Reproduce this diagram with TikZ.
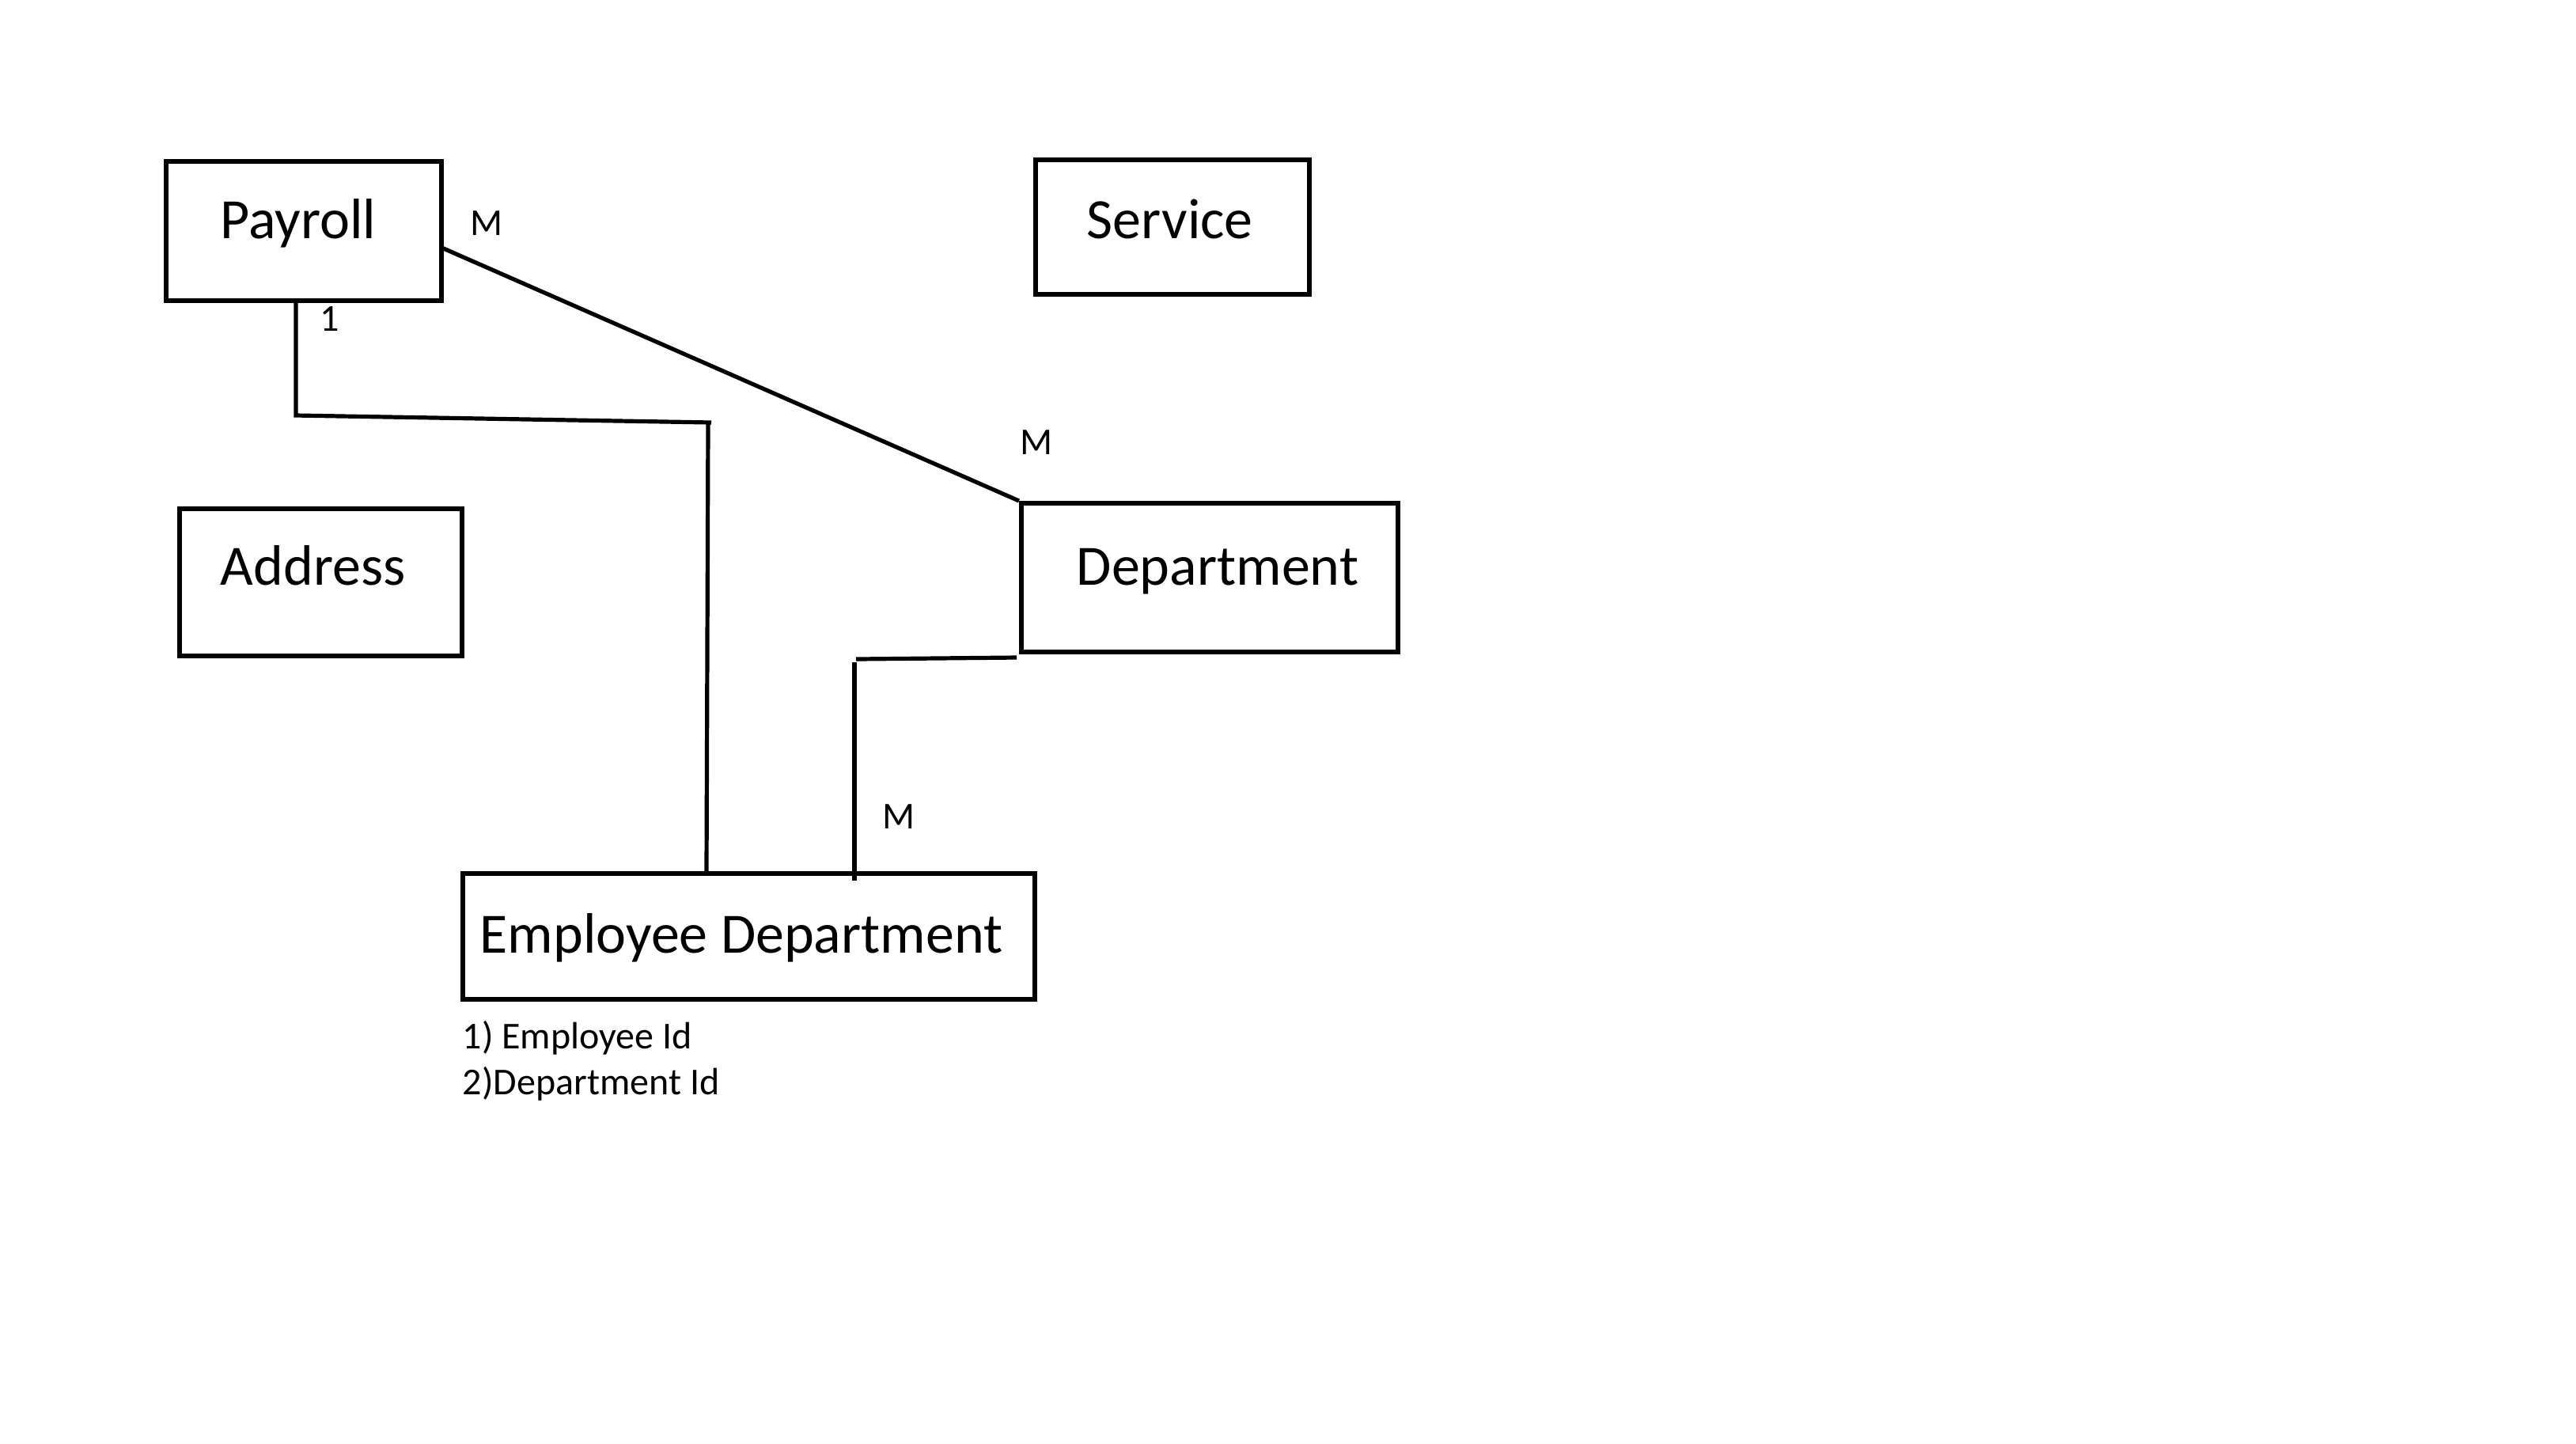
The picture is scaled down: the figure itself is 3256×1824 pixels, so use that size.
\documentclass[tikz,border=0pt]{standalone}
\usepackage{fontspec}
\setmainfont{Carlito}
\usetikzlibrary{calc}
\begin{document}
\begin{tikzpicture}[x=0.25pt,y=-0.25pt,
  entity/.style={draw,line width=1.5pt,rectangle,inner sep=0pt,anchor=north west},
  title/.style={anchor=base west,inner sep=0pt,font=\fontsize{18}{21}\selectfont},
  small/.style={inner sep=0pt,font=\fontsize{12}{14}\selectfont},
  conn/.style={line width=1.3pt}]
\useasboundingbox[fill=white] (0,0) rectangle (3256,1824);
% boxes
\node[entity,minimum width=348*0.25pt,minimum height=176*0.25pt] (payroll) at (207,201) {};
\node[entity,minimum width=346*0.25pt,minimum height=170*0.25pt] (service) at (1306,199) {};
\node[entity,minimum width=357*0.25pt,minimum height=186*0.25pt] (address) at (224,640) {};
\node[entity,minimum width=476*0.25pt,minimum height=188*0.25pt] (dept) at (1288,633) {};
\node[entity,minimum width=723*0.25pt,minimum height=159*0.25pt] (empdept) at (582,1101) {};
% titles
\node[title] (payrollT) at (278,301) {Payroll};
\node[title] (serviceT) at (1373,301) {Service};
\node[title] (addressT) at (278,739) {Address};
\node[title] (deptT) at (1360,739) {Department};
\node[title] (empdeptT) at (606,1204) {Employee Department};
% attributes
\node[small,anchor=base west] (attr1) at (584,1325) {1) Employee Id};
\node[small,anchor=base west] (attr2) at (584,1383) {2)Department Id};
% cardinalities
\node[small] (m1) at (615,282) {M};
\node[small] (one) at (417,403) {1};
\node[small] (m2) at (1310,559) {M};
\node[small] (m3) at (1136,1032) {M};
% connector points
\coordinate (pe) at (556,312);
\coordinate (b1) at (374,525);
\coordinate (b2) at (899,534);
\coordinate (b3) at (895,536);
\coordinate (e1) at (893,1101);
\coordinate (d1) at (1285,831);
\coordinate (d2) at (1082,833);
\coordinate (d3) at (1080,837);
\coordinate (e2) at (1080,1113);
% connectors
\draw[conn] (pe) -- (dept.north west);
\draw[conn] (payroll.south -| b1) -- (b1) -- (b2);
\draw[conn] (b3) -- (e1);
\draw[conn] (d1) -- (d2);
\draw[conn] (d3) -- (e2);
\end{tikzpicture}
\end{document}
